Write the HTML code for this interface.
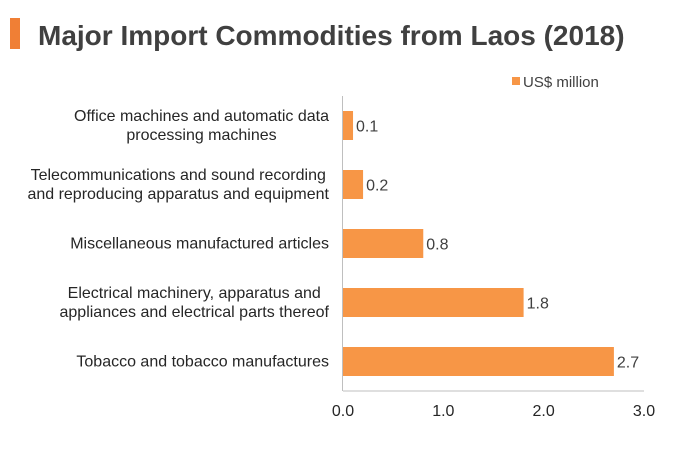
<!DOCTYPE html>
<html><head><meta charset="utf-8"><style>
body{margin:0;background:#fff;}
svg text{font-family:"Liberation Sans",Arial,sans-serif;}
</style></head><body>
<svg width="676" height="451" xmlns="http://www.w3.org/2000/svg">
<rect x="10" y="18" width="10" height="31" fill="#F07F35"/>
<text x="38" y="45" font-size="28" font-weight="bold" fill="#404040">Major Import Commodities from Laos (2018)</text>
<rect x="512" y="77" width="8" height="8" fill="#F79646"/>
<text x="523" y="87" font-size="15" fill="#404040">US$ million</text>
<g id="plot"></g>
</svg>
<script>
const categories=[["Office machines and automatic data","processing machines"],["Telecommunications and sound recording","and reproducing apparatus and equipment"],["Miscellaneous manufactured articles"],["Electrical machinery, apparatus and","appliances and electrical parts thereof"],["Tobacco and tobacco manufactures"]];
const values=[0.1,0.2,0.8,1.8,2.7];
const valueLabels=["0.1","0.2","0.8","1.8","2.7"];
const ticks=[0,1,2,3];
const tickLabels=["0.0","1.0","2.0","3.0"];
const NS="http://www.w3.org/2000/svg";
const g=document.getElementById('plot');
const x0=343,x1=644,yTop=96,yBot=391;
const xs=v=>x0+(v-0)/(3-0)*(x1-x0);
const band=(yBot-yTop)/categories.length;
const yc=i=>yTop+band*(i+0.5);
function mk(t,a){const e=document.createElementNS(NS,t);for(const k in a)e.setAttribute(k,a[k]);g.appendChild(e);return e;}
values.forEach((v,i)=>{
 const r=mk('rect',{x:x0,y:yc(i)-14.5,width:xs(v)-x0,height:29,fill:'#F79646'});
 
 
 const t=mk('text',{x:xs(v)+3,y:yc(i)+6,'font-size':16,fill:'#404040'});
 t.textContent=valueLabels[i];
 
 
 const lines=categories[i];
 const c=mk('text',{'font-size':16,fill:'#262626','text-anchor':'middle'});
 
 
 const spans=lines.map((ln,j)=>{const s=document.createElementNS(NS,'tspan');s.setAttribute('y',yc(i)+5+(j-(lines.length-1)/2)*19);s.textContent=ln;c.appendChild(s);return s;});
 let w=0;spans.forEach(s=>{w=Math.max(w,s.getComputedTextLength());});
 spans.forEach(s=>s.setAttribute('x',329-w/2));
});
const ya=mk('line',{x1:x0-0.5,x2:x0-0.5,y1:yTop,y2:yBot,stroke:'#bfbfbf'});


const xa=mk('line',{x1:x0,x2:x1,y1:yBot,y2:yBot,stroke:'#bfbfbf'});


ticks.forEach((t,i)=>{
 const e=mk('text',{x:xs(t),y:416,'font-size':16,fill:'#262626','text-anchor':'middle'});
 e.textContent=tickLabels[i];
 
 
});
</script>
</body></html>
